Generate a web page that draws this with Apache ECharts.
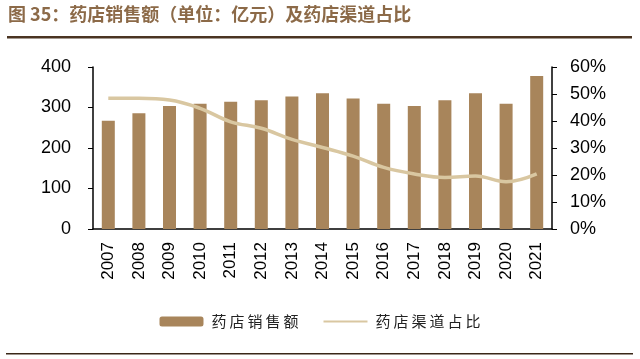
<!DOCTYPE html>
<html><head><meta charset="utf-8">
<script src="https://cdn.jsdelivr.net/npm/echarts@6/dist/echarts.min.js"></script>
<style>html,body{margin:0;padding:0;background:#fff}#c{width:640px;height:359px}</style>
</head><body><div id="c"></div>
<script>
const years = ['2007','2008','2009','2010','2011','2012','2013','2014','2015','2016','2017','2018','2019','2020','2021'];
const sales = [267,286,304,309,314,318,327,335,322,309,304,318,335,309,378];
const share = [48.4,48.4,47.8,44.7,39.7,37.3,33.2,30.2,27.0,22.8,20.4,19.1,19.6,17.5,20.4];
const leftTicks = [0,100,200,300,400];
const rightTicks = [0,10,20,30,40,50,60];

const spaced = (s, sp) => s.split('').join(sp);
const chart = echarts.init(document.getElementById('c'));
const font = '"Liberation Sans", Arial, sans-serif';
chart.setOption({
  backgroundColor:'#fff',
  animation:false,
  graphic:[
    {type:'text', left:8, top:5, style:{text:'图 35：药店销售额（单位：亿元）及药店渠道占比', font:'bold 18px "Noto Sans CJK SC"', fill:'#8c6a48'}},
    {type:'rect', shape:{x:7,y:36,width:625,height:2.5}, style:{fill:'#4a3422'}},
    {type:'rect', shape:{x:6,y:353,width:627,height:1.5}, style:{fill:'#3a2818'}}
  ],
  grid:{left:93,right:88,top:67,bottom:130},
  legend:{
    bottom:25, left:'center', itemGap:24, itemWidth:44, itemHeight:10,
    formatter: n => '\u2009' + spaced(n,'\u2009'),
    textStyle:{fontFamily:'"Noto Sans CJK SC"', fontSize:15, color:'#222'},
    data:[{name:'药店销售额'},{name:'药店渠道占比', itemStyle:{opacity:0}}]
  },
  xAxis:{
    type:'category', data:years, boundaryGap:true,
    axisLine:{lineStyle:{color:'#000',width:1.5}},
    axisTick:{inside:true, length:5, lineStyle:{color:'#000'}},
    axisLabel:{rotate:90, fontFamily:font, fontSize:17, color:'#000', margin:13}
  },
  yAxis:[
    {type:'value', min:leftTicks[0], max:leftTicks[leftTicks.length-1], interval:100,
     splitLine:{show:false},
     axisLine:{show:true, lineStyle:{color:'#000',width:1.5}},
     axisTick:{show:true, length:5, lineStyle:{color:'#000'}},
     axisLabel:{fontFamily:font, fontSize:18, color:'#000', margin:22}},
    {type:'value', min:rightTicks[0], max:rightTicks[rightTicks.length-1], interval:10,
     splitLine:{show:false},
     axisLine:{show:true, lineStyle:{color:'#000',width:1.5}},
     axisTick:{show:true, length:5, lineStyle:{color:'#000'}},
     axisLabel:{fontFamily:font, fontSize:18, color:'#000', margin:18, formatter:'{value}%'}}
  ],
  series:[
    {name:'药店销售额', type:'bar', data:sales, barWidth:13, itemStyle:{color:'#a8855b'}},
    {name:'药店渠道占比', type:'line', yAxisIndex:1, data:share, smooth:0.4, symbol:'none',
     lineStyle:{color:'#d9c7a1', width:3.5}, itemStyle:{color:'#d9c7a1'}}
  ]
});
</script></body></html>
